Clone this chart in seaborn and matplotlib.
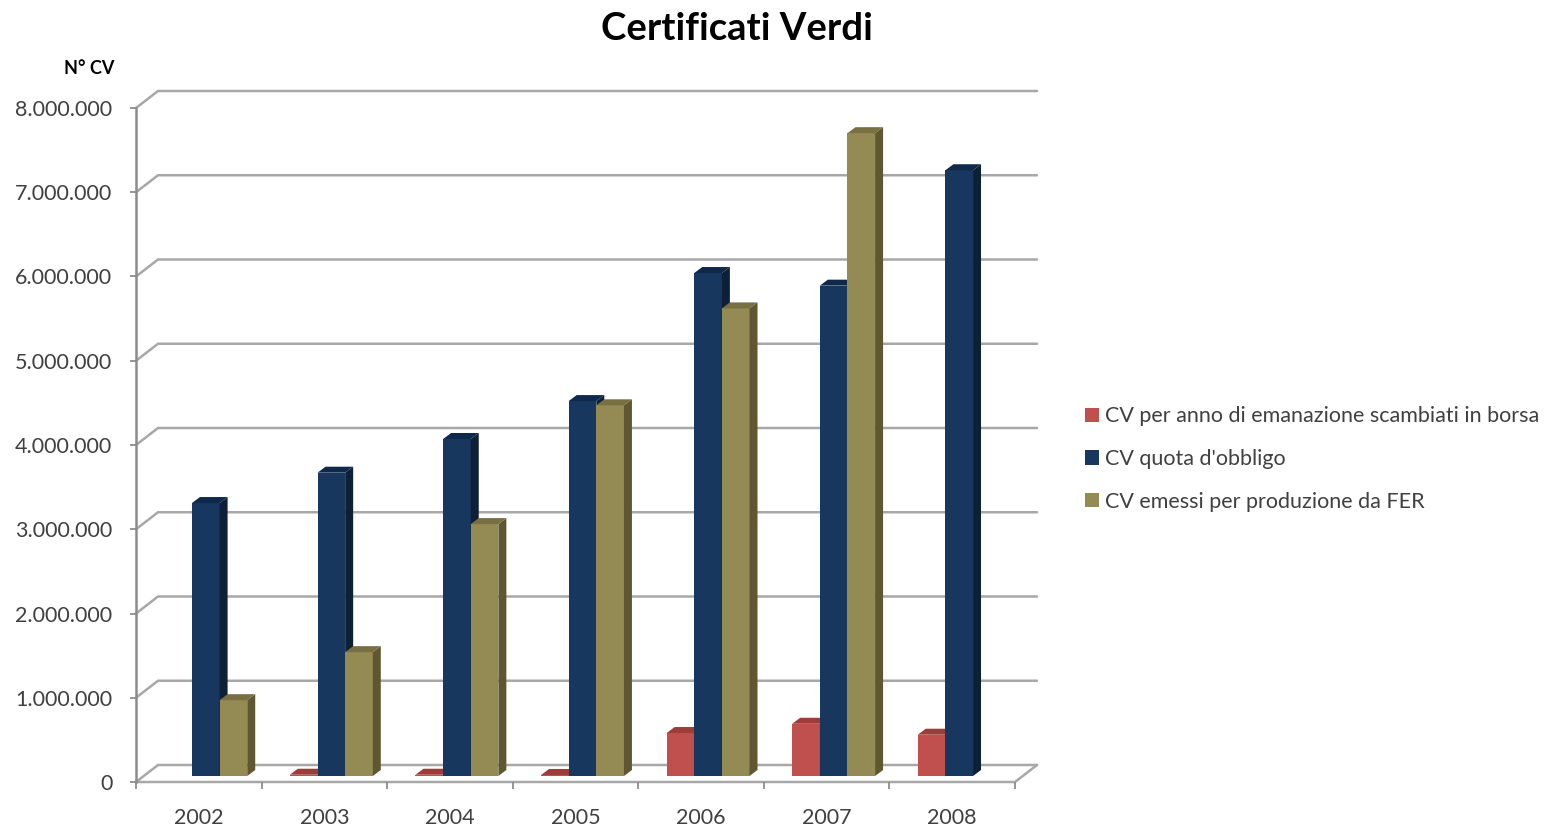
import numpy as np
import pandas as pd
import matplotlib
matplotlib.use("Agg")
import matplotlib.pyplot as plt
from matplotlib.patches import Polygon, Patch
from matplotlib.ticker import FuncFormatter, FixedLocator
import matplotlib.transforms as mtransforms
import seaborn as sns

# ---- data -------------------------------------------------------------
anni = ["2002", "2003", "2004", "2005", "2006", "2007", "2008"]
serie = [
    "CV per anno di emanazione scambiati in borsa",
    "CV quota d'obbligo",
    "CV emessi per produzione da FER",
]
cv_borsa = [np.nan, 15000, 15000, 12000, 510000, 620000, 490000]
cv_obbligo = [3240000, 3600000, 4000000, 4450000, 5970000, 5820000, 7190000]
cv_fer = [900000, 1470000, 2990000, 4400000, 5550000, 7630000, np.nan]
y_ticks = [0, 1000000, 2000000, 3000000, 4000000, 5000000, 6000000, 7000000, 8000000]

# ---- styling ----------------------------------------------------------
front_col = ["#C0504D", "#17375E", "#948A54"]
side_col = ["#8C3431", "#0C2138", "#5E5731"]
top_col = ["#9E3C39", "#10294A", "#787043"]
grid_col = "#A8A8A8"
axis_col = "#8C8C8C"
text_col = "#404040"

sns.set_style("white")
plt.rcParams["font.family"] = ["Lato", "DejaVu Sans"]

W, H = 1551, 830
fig = plt.figure(figsize=(W / 100, H / 100), dpi=100)
ax_l, ax_b, ax_w, ax_h = 136, 48, 879, 674   # front plane in pixels
ax = fig.add_axes([ax_l / W, ax_b / H, ax_w / W, ax_h / H])

df = pd.DataFrame({
    "anno": np.repeat(anni, 3),
    "serie": serie * len(anni),
    "valore": np.ravel(np.column_stack([cv_borsa, cv_obbligo, cv_fer])),
})

sns.barplot(data=df, x="anno", y="valore", hue="serie", order=anni,
            hue_order=serie, palette=front_col, saturation=1, width=0.66,
            errorbar=None, legend=False, ax=ax, linewidth=0)

ax.set_xlim(-0.5, len(anni) - 0.5)
ax.set_ylim(0, 8000000)

# pixel -> data conversions for the depth effect
ppx = ax_w / len(anni)
ppy = ax_h / 8000000
wall_dx, wall_dy = 22 / ppx, 17 / ppy      # back wall depth
off_dx, off_dy = 7 / ppx, 6 / ppy          # bar front plane offset
bar_dx, bar_dy = 8 / ppx, 6 / ppy          # bar depth

# back wall gridlines with perspective connectors
x0f, x1f = -0.5, len(anni) - 0.5
for v in y_ticks:
    ax.plot([x0f, x0f + wall_dx, x1f + wall_dx], [v, v + wall_dy, v + wall_dy],
            color=grid_col, lw=1.8, clip_on=False, zorder=0.5,
            solid_joinstyle="miter")
# floor: front edge and right edge
ax.plot([x0f, x1f, x1f + wall_dx], [0, 0, wall_dy], color=grid_col, lw=1.8,
        clip_on=False, zorder=0.5)

# 3D faces for each bar
offset = mtransforms.ScaledTranslation(7 / 100, 6 / 100, fig.dpi_scale_trans)
for i, cont in enumerate(ax.containers):
    for bar in cont:
        h = bar.get_height()
        if not np.isfinite(h):
            bar.set_visible(False)
            continue
        x = bar.get_x()
        w = bar.get_width()
        bar.set_transform(ax.transData + offset)
        bar.set_clip_on(False)
        bar.set_zorder(2 + i)
        fx0, fx1 = x + off_dx, x + w + off_dx
        fy0, fy1 = off_dy, h + off_dy
        side = Polygon([(fx1, fy0), (fx1 + bar_dx, fy0 + bar_dy),
                        (fx1 + bar_dx, fy1 + bar_dy), (fx1, fy1)],
                       closed=True, facecolor=side_col[i], edgecolor="none",
                       clip_on=False, zorder=2 + i)
        top = Polygon([(fx0, fy1), (fx0 + bar_dx, fy1 + bar_dy),
                       (fx1 + bar_dx, fy1 + bar_dy), (fx1, fy1)],
                      closed=True, facecolor=top_col[i], edgecolor="none",
                      clip_on=False, zorder=2 + i)
        ax.add_patch(side)
        ax.add_patch(top)

# axes, ticks and labels
for s in ["top", "right", "bottom"]:
    ax.spines[s].set_visible(False)
ax.spines["left"].set_color(axis_col)
ax.spines["left"].set_linewidth(1.8)
ax.grid(False)

ax.yaxis.set_major_locator(FixedLocator(y_ticks))
ax.yaxis.set_major_formatter(FuncFormatter(lambda v, p: f"{int(v):,}".replace(",", ".")))
ax.tick_params(axis="y", left=True, length=4, width=1.3, color=axis_col,
               direction="out", pad=13, labelsize=15.5, labelcolor=text_col)

ax.set_xticks(range(len(anni)))
ax.set_xticklabels(anni)
ax.set_xticks(np.arange(-0.5, len(anni)), minor=True)
ax.tick_params(axis="x", which="major", bottom=False, length=0, pad=19,
               labelsize=15.5, labelcolor=text_col)
ax.tick_params(axis="x", which="minor", bottom=True, length=5, width=1.3,
               color=axis_col, direction="out")
ax.set_xlabel("")
ax.set_ylabel("")

fig.text(737 / W, 1 - 29 / H, "Certificati Verdi", ha="center", va="center",
         fontsize=27.5, fontweight="bold", color="#000000")
fig.text(114 / W, 1 - 68 / H, "N° CV", ha="right", va="center",
         fontsize=13, fontweight="bold", color="#000000")

handles = [Patch(facecolor=c, edgecolor="none") for c in front_col]
fig.legend(handles, serie, loc="center left", bbox_to_anchor=(1066 / W, 1 - 459 / H),
           frameon=False, fontsize=15.5, handlelength=0.65, handleheight=0.65,
           handletextpad=0.25, labelspacing=1.05, labelcolor=text_col)

fig.savefig("out.png", dpi=100, facecolor="white")
